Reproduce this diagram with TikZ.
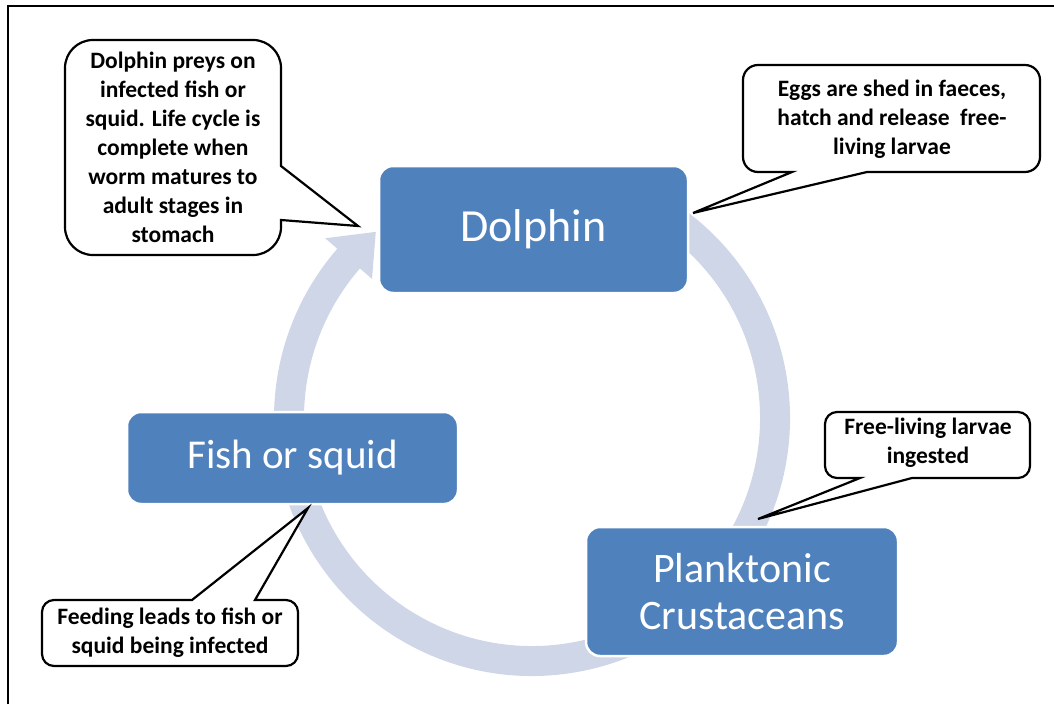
\documentclass[tikz,border=0pt]{standalone}
\usepackage{fontspec}
\setmainfont{Carlito}
\usetikzlibrary{calc}
\definecolor{boxblue}{RGB}{79,129,189}
\definecolor{ringblue}{RGB}{207,214,231}
\tikzset{
  stage/.style={rounded corners=14pt, fill=boxblue, draw=white, line width=2.5pt,
    text=white, align=center, inner sep=0pt},
  callout/.style={draw=black, fill=white, line width=2.2pt, line join=miter},
  calltext/.style={align=center, font=\bfseries\fontsize{23.5}{29}\selectfont, inner sep=0pt},
}
\begin{document}
\begin{tikzpicture}[x=1pt,y=-1pt]
\useasboundingbox (0,0) rectangle (1054,704);
% frame
\draw[line width=2pt] (8,704) -- (8,6) -- (1054,6);
% cycle ring
\coordinate (c) at (532,418);
\draw[ringblue, line width=30pt] (c) ++(-60:243) arc[start angle=-60, end angle=222, radius=243];
\fill[ringblue] ($(c)+(221:212)$) -- ($(c)+(221:274)$) -- ($(c)+(230:243)$) -- cycle;
% stages
\node[stage, minimum width=309pt, minimum height=127pt, font=\fontsize{46}{50}\selectfont] (dolphin) at (533.5,229.5) {Dolphin};
\node[stage, minimum width=331pt, minimum height=92pt, font=\fontsize{41}{46}\selectfont] (fish) at (292.5,458) {Fish or squid};
\node[stage, minimum width=312pt, minimum height=129pt, font=\fontsize{42}{47}\selectfont] (plank) at (742,591.5) {Planktonic\\Crustaceans};
% callout 1 (top left)
\coordinate (t1) at (358,226);
\draw[callout] (93,40) -- (253,40) arc[start angle=270, end angle=360, radius=28]
  -- (281,166) -- (t1) -- (281,220) -- (281,227) arc[start angle=0, end angle=90, radius=28]
  -- (93,255) arc[start angle=90, end angle=180, radius=28]
  -- (65,68) arc[start angle=180, end angle=270, radius=28] -- cycle;
\node[calltext] (n1) at (173,147) {Dolphin preys on\\infected fish or\\squid. Life cycle is\\complete when\\worm matures to\\adult stages in\\stomach};
% callout 2 (top right)
\coordinate (t2) at (693,213);
\draw[callout] (758,65) -- (1025,65) arc[start angle=270, end angle=360, radius=15]
  -- (1040,157) arc[start angle=0, end angle=90, radius=15]
  -- (867,172) -- (t2) -- (792,172) -- (758,172) arc[start angle=90, end angle=180, radius=15]
  -- (743,80) arc[start angle=180, end angle=270, radius=15] -- cycle;
\node[calltext] (n2) at (892,119) {Eggs are shed in faeces,\\hatch and release\ \ free-\\living larvae};
% callout 3 (right)
\coordinate (t3) at (758,519);
\draw[callout] (837,412) -- (1018,412) arc[start angle=270, end angle=360, radius=12]
  -- (1030,466) arc[start angle=0, end angle=90, radius=12]
  -- (912,478) -- (t3) -- (860,478) -- (837,478) arc[start angle=90, end angle=180, radius=12]
  -- (825,424) arc[start angle=180, end angle=270, radius=12] -- cycle;
\node[calltext] (n3) at (928,443) {Free-living larvae\\ingested};
% callout 4 (bottom left)
\coordinate (t4) at (308,508);
\draw[callout] (54,600) -- (192,600) -- (t4) -- (255,600) -- (286,600) arc[start angle=270, end angle=360, radius=12]
  -- (298,654) arc[start angle=0, end angle=90, radius=12]
  -- (54,666) arc[start angle=90, end angle=180, radius=12]
  -- (42,612) arc[start angle=180, end angle=270, radius=12] -- cycle;
\node[calltext] (n4) at (170,633) {Feeding leads to fish or\\squid being infected};
\end{tikzpicture}
\end{document}
